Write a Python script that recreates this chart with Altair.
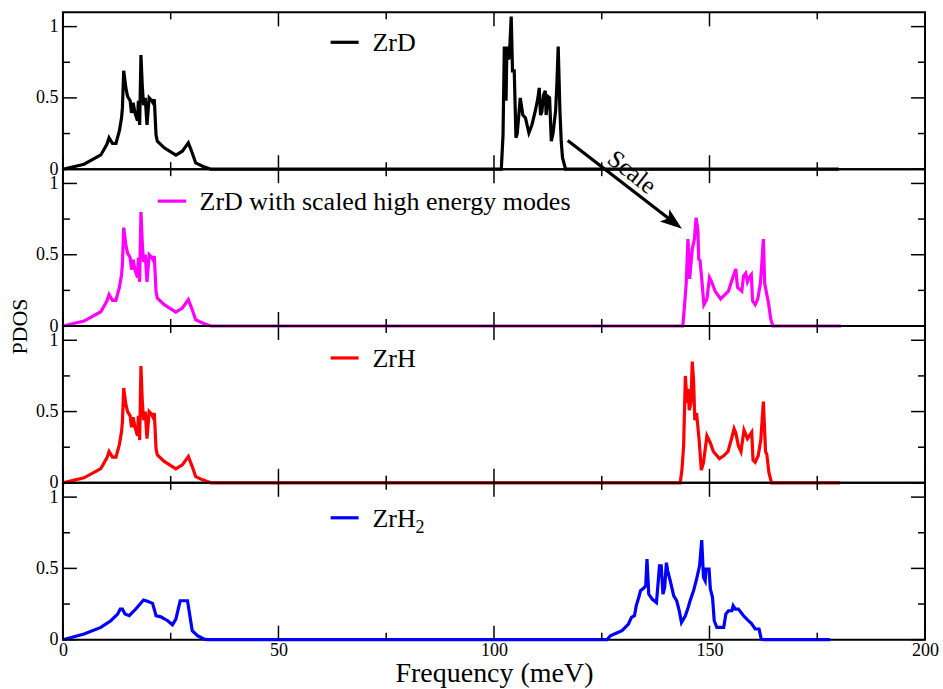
import altair as alt
import pandas as pd

FONT = "Liberation Serif"
W, H = 863, 157

# ---------------- data ----------------
# ZrD
zrd_e = [0, 4.9, 8.8, 10.2, 10.7, 11.5, 12.3, 13.1, 13.6, 13.8,
         14.1, 14.6, 15.0, 15.6, 15.9, 16.3, 16.7, 17.3, 17.5, 17.8,
         18.1, 18.4, 18.7, 19.1, 19.5, 20.0, 20.6, 20.9, 21.2, 21.6,
         21.9, 23.5, 26.2, 27.7, 29.1, 30.0, 30.8, 32.4, 34.3,
         101.7, 102.1, 102.4, 102.8, 103.0, 103.4, 103.6, 104.0, 104.3, 104.7,
         105.1, 105.4, 106.1, 106.7, 107.3, 108.1, 108.8, 109.6, 110.2, 110.5,
         110.8, 111.1, 111.5, 111.9, 112.1, 112.5, 112.9, 113.3, 113.7, 114.3,
         114.6, 114.9, 115.3, 115.6, 115.9, 116.6, 180.0]
zrd_pdos = [0, 0.035, 0.10, 0.175, 0.22, 0.18, 0.18, 0.27, 0.36, 0.43,
            0.69, 0.57, 0.51, 0.48, 0.395, 0.465, 0.395, 0.34, 0.48, 0.31,
            0.80, 0.59, 0.45, 0.50, 0.31, 0.50, 0.48, 0.465, 0.49, 0.24,
            0.196, 0.15, 0.098, 0.126, 0.185, 0.114, 0.044, 0.021, 0,
            0, 0.24, 0.86, 0.48, 0.86, 0.77, 0.81, 1.07, 0.69, 0.69,
            0.22, 0.25, 0.50, 0.38, 0.36, 0.255, 0.31, 0.41, 0.50, 0.57,
            0.38, 0.40, 0.52, 0.55, 0.38, 0.51, 0.50, 0.196, 0.25, 0.41,
            0.60, 0.86, 0.41, 0.196, 0.08, 0, 0]

# ZrD with scaled high energy modes
zrds_e = zrd_e[:39] + [143.8, 144.2, 144.6, 145.0, 145.4, 146.0, 146.5, 146.9, 147.3, 147.5,
                       147.8, 148.2, 148.7, 149.4, 150.0, 150.5, 151.3, 152.6, 153.6, 154.4,
                       155.4, 156.1, 156.5, 157.5, 157.9, 158.4, 158.8, 159.2, 159.7, 160.0,
                       160.6, 161.2, 161.8, 162.1, 162.5, 162.8, 163.3, 163.7, 164.2, 164.7,
                       180.5]
zrds_pdos = zrd_pdos[:39] + [0, 0.14, 0.30, 0.61, 0.33, 0.54, 0.61, 0.76, 0.67, 0.47,
                             0.46, 0.33, 0.15, 0.19, 0.34, 0.31, 0.245, 0.19, 0.22, 0.245,
                             0.34, 0.40, 0.27, 0.245, 0.35, 0.37, 0.31, 0.34, 0.36, 0.175,
                             0.15, 0.19, 0.30, 0.42, 0.61, 0.30, 0.22, 0.16, 0.05, 0,
                             0]

# ZrH
zrh_e = [0, 4.9, 8.8, 10.2, 10.7, 11.5, 12.3, 13.1, 13.6, 13.8,
         14.1, 14.6, 15.0, 15.6, 15.9, 16.3, 16.7, 17.3, 17.5, 17.8,
         18.1, 18.4, 18.7, 19.1, 19.5, 20.0, 20.6, 20.9, 21.2, 21.6,
         21.9, 23.5, 26.2, 27.7, 29.1, 30.0, 30.8, 32.4, 34.3,
         143.2, 143.6, 144.0, 144.4, 144.8, 145.0, 145.3, 145.7, 146.0, 146.3,
         146.6, 147.0, 147.6, 148.1, 148.6, 149.4, 150.2, 150.9, 152.3, 153.3,
         154.3, 155.2, 155.7, 156.1, 156.7, 157.3, 158.0, 158.8, 159.8, 160.1,
         160.6, 161.3, 161.9, 162.5, 163.0, 163.3, 163.8, 164.4, 180.3]
zrh_pdos = [0, 0.035, 0.10, 0.175, 0.22, 0.18, 0.18, 0.27, 0.36, 0.43,
            0.665, 0.55, 0.50, 0.47, 0.39, 0.46, 0.39, 0.33, 0.47, 0.30,
            0.82, 0.58, 0.44, 0.50, 0.31, 0.50, 0.48, 0.46, 0.49, 0.24,
            0.196, 0.15, 0.098, 0.126, 0.185, 0.114, 0.044, 0.021, 0,
            0, 0.09, 0.26, 0.75, 0.56, 0.66, 0.51, 0.56, 0.85, 0.72,
            0.44, 0.49, 0.30, 0.09, 0.14, 0.33, 0.28, 0.22, 0.17, 0.19,
            0.22, 0.32, 0.38, 0.35, 0.26, 0.22, 0.37, 0.31, 0.355, 0.16,
            0.145, 0.19, 0.30, 0.57, 0.22, 0.20, 0.07, 0, 0]

# ZrH2
zrh2_e = [0, 4.9, 8.8, 11.1, 12.7, 13.3, 13.8, 14.4, 15.4, 16.9,
          17.9, 18.7, 19.6, 20.8, 21.6, 22.7, 24.3, 25.4, 26.2, 27.2,
          28.1, 28.9, 30.0, 31.2, 32.7, 33.5,
          126.2, 127.0, 128.2, 129.7, 131.2, 131.9, 132.6, 133.0, 133.6, 134.0,
          134.7, 135.2, 135.5, 135.9, 136.7, 137.7, 138.4, 138.8, 139.2, 139.6,
          140.0, 140.3, 140.9, 141.7, 142.4, 143.0, 143.5, 144.4, 145.1, 145.5,
          146.3, 147.1, 147.7, 148.2, 148.6, 149.0, 149.2, 149.9, 150.2, 150.7,
          151.1, 151.7, 153.3, 153.8, 154.4, 155.2, 155.5, 156.0, 156.7, 157.9,
          159.0, 159.7, 160.6, 161.5, 162.0, 162.5, 178.0]
zrh2_pdos = [0, 0.04, 0.086, 0.133, 0.18, 0.215, 0.215, 0.18, 0.168, 0.215,
             0.25, 0.278, 0.27, 0.255, 0.168, 0.16, 0.133, 0.105, 0.145, 0.273,
             0.273, 0.273, 0.063, 0.028, 0.005, 0,
             0, 0.028, 0.044, 0.063, 0.11, 0.156, 0.168, 0.238, 0.297, 0.343,
             0.36, 0.378, 0.565, 0.32, 0.285, 0.26, 0.518, 0.518, 0.32, 0.366,
             0.54, 0.483, 0.413, 0.308, 0.273, 0.2, 0.121, 0.168, 0.231, 0.273,
             0.343, 0.437, 0.518, 0.698, 0.437, 0.413, 0.495, 0.495, 0.355, 0.297,
             0.133, 0.086, 0.086, 0.18, 0.203, 0.203, 0.238, 0.215, 0.215, 0.168,
             0.133, 0.114, 0.075, 0.075, 0.005, 0, 0]

# legend entries
legend_labels = ["ZrD", "ZrD with scaled high energy modes", "ZrH", "ZrH"]
legend_sub = ["", "", "", "2"]
legend_colors = ["black", "#ff00ff", "#ff0000", "#0000ff"]
legend_x1 = [62.1, 22.0, 62.1, 62.1]
legend_x2 = [68.6, 28.6, 68.6, 68.6]
legend_text_x = [71.8, 31.7, 71.8, 71.8]
legend_y = [0.89, 0.876, 0.876, 0.855]

# arrow ("Scale") drawn in the top panel's coordinates
arrow_x = [117.1]
arrow_y = [0.201]
arrow_x2 = [141.6]
arrow_y2 = [-0.371]
arrow_label = ["Scale"]
arrow_label_x = [132.0]
arrow_label_y = [-0.02]

# tick values
X_MAJOR = [0, 50, 100, 150, 200]
X_MINOR = [25, 75, 125, 175]
Y_MAJOR = [0, 0.5, 1]
Y_MINOR = [0.25, 0.75]

series_e = [zrd_e, zrds_e, zrh_e, zrh2_e]
series_p = [zrd_pdos, zrds_pdos, zrh_pdos, zrh2_pdos]

# ---------------- chart ----------------
x_scale = alt.Scale(domain=[0, 200], nice=False, zero=False)
y_scale = alt.Scale(domain=[0, 1.1], nice=False, zero=False)
LW = 3.2


def tick_layers():
    layers = []
    for vals, ln in ((X_MAJOR, 14), (X_MINOR, 7)):
        base = alt.Chart(pd.DataFrame({"v": vals})).mark_rule(color="black", strokeWidth=1.5)
        xe = alt.X("v:Q", scale=x_scale, axis=None)
        layers.append(base.encode(x=xe, y=alt.value(0), y2=alt.value(ln)))
        layers.append(base.encode(x=xe, y=alt.value(H), y2=alt.value(H - ln)))
    for vals, ln in ((Y_MAJOR, 14), (Y_MINOR, 7)):
        base = alt.Chart(pd.DataFrame({"v": vals})).mark_rule(color="black", strokeWidth=1.5)
        ye = alt.Y("v:Q", scale=y_scale, axis=None)
        layers.append(base.encode(y=ye, x=alt.value(0), x2=alt.value(ln)))
        layers.append(base.encode(y=ye, x=alt.value(W), x2=alt.value(W - ln)))
    return layers


def panel(i):
    df = pd.DataFrame({"E": series_e[i], "PDOS": series_p[i]})
    if i == 3:
        x_axis = alt.Axis(values=X_MAJOR, format="d", ticks=False, domain=False, grid=False,
                          labelFont=FONT, labelFontSize=18, labelPadding=2, labelFlush=False,
                          labelColor="black", title="Frequency (meV)", titleFont=FONT,
                          titleFontSize=28, titleFontWeight="normal", titlePadding=0,
                          titleColor="black")
    else:
        x_axis = None
    y_kwargs = dict(values=Y_MAJOR, format="~g", ticks=False, domain=False, grid=False,
                    labelFont=FONT, labelFontSize=18, labelPadding=5, labelColor="black",
                    labelFlush=False)
    if i == 1:
        y_axis = alt.Axis(title="PDOS", titleFont=FONT, titleFontSize=22,
                          titleFontWeight="normal", titleColor="black",
                          titleX=-43.5, titleY=H, titleBaseline="middle",
                          titleAlign="center", titleAngle=-90, **y_kwargs)
    else:
        y_axis = alt.Axis(title=None, **y_kwargs)

    line = alt.Chart(df).mark_line(color=legend_colors[i], strokeWidth=LW).encode(
        x=alt.X("E:Q", scale=x_scale, axis=x_axis),
        y=alt.Y("PDOS:Q", scale=y_scale, axis=y_axis),
    )

    leg = pd.DataFrame({"x1": [legend_x1[i]], "x2": [legend_x2[i]], "y": [legend_y[i]],
                        "tx": [legend_text_x[i]], "label": [legend_labels[i]],
                        "sub": [legend_sub[i]]})
    leg_line = alt.Chart(leg).mark_rule(color=legend_colors[i], strokeWidth=LW).encode(
        x=alt.X("x1:Q", scale=x_scale, axis=None), x2="x2:Q",
        y=alt.Y("y:Q", scale=y_scale, axis=None))
    leg_text = alt.Chart(leg).mark_text(align="left", baseline="alphabetic", dy=9,
                                        font=FONT, fontSize=26, color="black").encode(
        x=alt.X("tx:Q", scale=x_scale, axis=None),
        y=alt.Y("y:Q", scale=y_scale, axis=None), text="label:N")
    layers = [line] + tick_layers() + [leg_line, leg_text]
    if legend_sub[i]:
        layers.append(alt.Chart(leg).mark_text(align="left", baseline="alphabetic", dx=43, dy=15,
                                               font=FONT, fontSize=18, color="black").encode(
            x=alt.X("tx:Q", scale=x_scale, axis=None),
            y=alt.Y("y:Q", scale=y_scale, axis=None), text="sub:N"))
    if i == 0:
        adf = pd.DataFrame({"x": arrow_x, "y": arrow_y, "x2": arrow_x2, "y2": arrow_y2,
                            "lx": arrow_label_x, "ly": arrow_label_y, "label": arrow_label})
        layers.append(alt.Chart(adf).mark_rule(color="black", strokeWidth=LW).encode(
            x=alt.X("x:Q", scale=x_scale, axis=None), x2="x2:Q",
            y=alt.Y("y:Q", scale=y_scale, axis=None), y2="y2:Q"))
        layers.append(alt.Chart(adf).mark_point(
            shape="M1,0 L-1,-0.7 L-0.55,0 L-1,0.7 Z", size=484, angle=38,
            filled=True, color="black", opacity=1).encode(
            x=alt.X("x2:Q", scale=x_scale, axis=None),
            y=alt.Y("y2:Q", scale=y_scale, axis=None)))
        layers.append(alt.Chart(adf).mark_text(angle=38, font=FONT, fontSize=25,
                                               color="black", align="center",
                                               baseline="middle").encode(
            x=alt.X("lx:Q", scale=x_scale, axis=None),
            y=alt.Y("ly:Q", scale=y_scale, axis=None), text="label:N"))
    return alt.layer(*layers).resolve_axis(x="independent", y="independent").properties(
        width=W, height=H)


chart = alt.vconcat(*[panel(i) for i in range(4)], spacing=0, bounds="flush").configure_view(
    stroke="black", strokeWidth=2
).properties(
    padding={"left": 7, "top": 8, "right": 3, "bottom": 0},
    background="white",
)

chart.save("out.html", embed_options={"renderer": "svg", "actions": False})
